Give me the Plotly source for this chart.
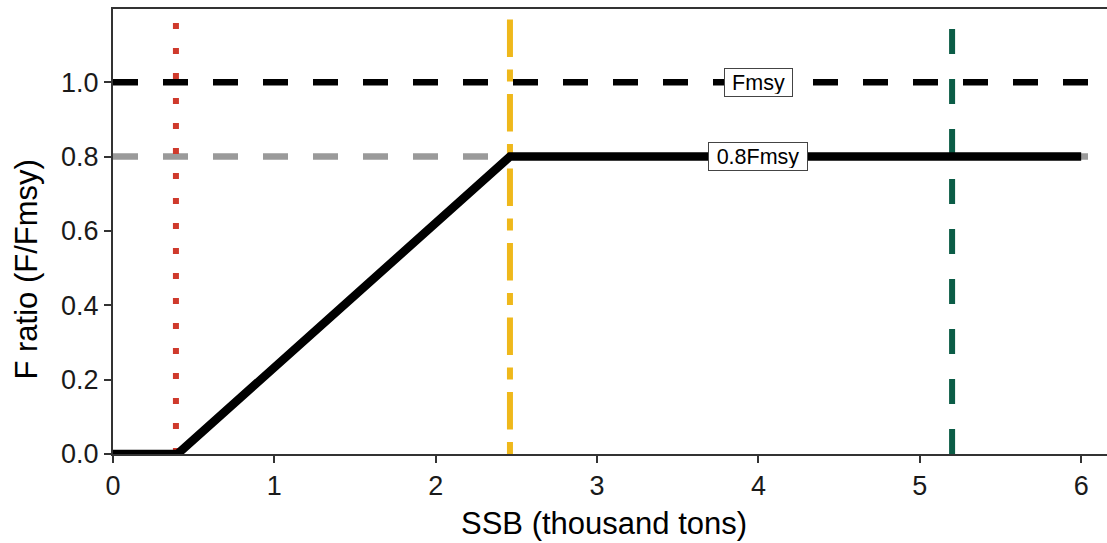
import plotly.graph_objects as go

# ---- data ----
ssb = [0.0, 0.4, 2.46, 6.0]          # harvest control rule, x (thousand tons)
f_ratio = [0.0, 0.0, 0.8, 0.8]       # harvest control rule, y (F/Fmsy)
fmsy_level = 1.0
ftarget_level = 0.8
blim = 0.39
bthreshold = 2.46
btarget = 5.2
label_x = 4.0
label_texts = ["Fmsy", "0.8Fmsy"]
label_levels = [1.0, 0.8]
label_widths = [63, 94]
x_ticks = [0, 1, 2, 3, 4, 5, 6]
y_ticks = [0.0, 0.2, 0.4, 0.6, 0.8, 1.0]
y_tick_labels = ["0.0", "0.2", "0.4", "0.6", "0.8", "1.0"]
x_range = [0, 6.16]
y_range = [0, 1.197]
x_title = "SSB (thousand tons)"
y_title = "F ratio (F/Fmsy)"

FONT = "Liberation Sans, Arial, sans-serif"

fig = go.Figure()

# horizontal reference lines (full panel width)
fig.add_trace(go.Scatter(
    x=[x_range[0], x_range[1]], y=[fmsy_level, fmsy_level], mode="lines",
    line=dict(color="black", width=6.5, dash="25px,25px"),
    hoverinfo="skip", showlegend=False))
fig.add_trace(go.Scatter(
    x=[x_range[0], x_range[1]], y=[ftarget_level, ftarget_level], mode="lines",
    line=dict(color="#9a9a9a", width=6.5, dash="25px,25px"),
    hoverinfo="skip", showlegend=False))

# vertical reference lines (drawn bottom to top)
fig.add_trace(go.Scatter(
    x=[blim, blim], y=[y_range[0], y_range[1]], mode="lines",
    line=dict(color="#cf3a2c", width=6, dash="6px,19px"),
    hoverinfo="skip", showlegend=False))
fig.add_trace(go.Scatter(
    x=[bthreshold, bthreshold], y=[y_range[0], y_range[1]], mode="lines",
    line=dict(color="#efb81b", width=6, dash="12px,12.5px,37.5px,12.5px"),
    hoverinfo="skip", showlegend=False))
fig.add_trace(go.Scatter(
    x=[btarget, btarget], y=[y_range[0], y_range[1]], mode="lines",
    line=dict(color="#0b5c46", width=6, dash="25px,25px"),
    hoverinfo="skip", showlegend=False))

# harvest control rule
fig.add_trace(go.Scatter(
    x=ssb, y=f_ratio, mode="lines",
    line=dict(color="black", width=8.5),
    hoverinfo="skip", showlegend=False))

for txt, lvl, w in zip(label_texts, label_levels, label_widths):
    fig.add_annotation(
        x=label_x, y=lvl, xref="x", yref="y", text=txt, showarrow=False,
        font=dict(family=FONT, size=21.5, color="black"),
        bgcolor="white", bordercolor="#444444", borderwidth=1, borderpad=2,
        width=w, height=23, align="center", valign="middle")

# axis titles
fig.add_annotation(
    x=0.494, y=-0.157, xref="paper", yref="paper", text=x_title,
    showarrow=False, xanchor="center", yanchor="middle",
    font=dict(family=FONT, size=31, color="black"))
fig.add_annotation(
    x=-0.0875, y=0.4146, xref="paper", yref="paper", text=y_title,
    showarrow=False, xanchor="center", yanchor="middle", textangle=-90,
    font=dict(family=FONT, size=31, color="black"))

axis_common = dict(
    showgrid=False, zeroline=False, showline=True, linecolor="#333333",
    linewidth=2, ticks="outside", ticklen=7, tickwidth=2, tickcolor="#333333",
    tickfont=dict(family=FONT, size=27, color="#1a1a1a"), automargin=False,
)

fig.update_layout(
    width=1107, height=543,
    margin=dict(l=113, r=0, t=9, b=89),
    paper_bgcolor="white", plot_bgcolor="white",
    xaxis=dict(range=x_range, tickvals=x_ticks, mirror=True, **axis_common),
    yaxis=dict(range=y_range, tickvals=y_ticks, ticktext=y_tick_labels,
               **axis_common),
)

fig.write_html(
    "out.html",
    config={"displayModeBar": False},
    post_script="document.body.style.margin='0px';document.body.style.overflow='hidden';",
)
